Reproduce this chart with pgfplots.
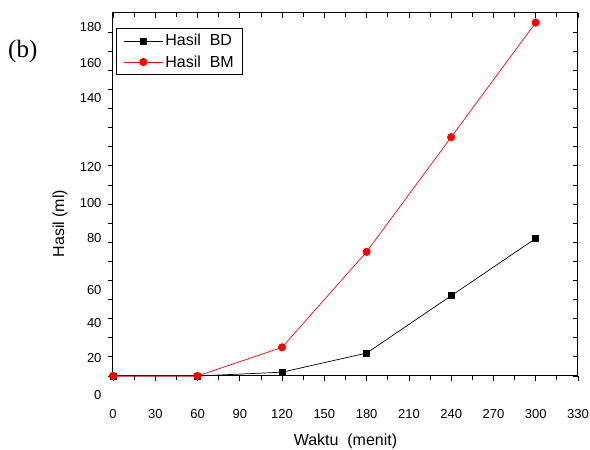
\documentclass[border=0pt]{standalone}
\usepackage{pgfplots}
\pgfplotsset{compat=1.18}
\usepackage{fontspec}
\setmainfont{Liberation Sans}
\newfontfamily\serifb{Liberation Serif}
\begin{document}
\begin{tikzpicture}
\useasboundingbox (-113pt,-74pt) rectangle (477pt,376pt);
\begin{axis}[
  at={(0,0)}, anchor=south west,
  scale only axis, width=465pt, height=363pt,
  xmin=0, xmax=330, ymin=0, ymax=190,
  clip=false,
  axis line style={line width=1pt},
  xtick={0,30,...,330},
  minor xtick={15,45,...,315},
  ytick={0,10,...,180},
  yticklabels={},
  xtick pos=bottom, ytick pos=left,
  tick align=outside,
  major tick length=5pt, minor tick length=4pt,
  every tick/.style={black, line width=0.8pt},
  /pgf/number format/assume math mode=true,
  ticklabel style={font=\fontsize{13}{15}\selectfont},
  xticklabel style={yshift=-25pt},
  extra y ticks={182.5,163.7,145.4,109.6,90.4,72.1,45.0,27.6,9.3},
  extra y tick labels={180,160,140,120,100,80,60,40,20},
  extra y tick style={major tick length=0pt, yticklabel style={xshift=-8pt}},
  xlabel={Waktu\ \ (menit)},
  ylabel={Hasil (ml)},
  label style={font=\fontsize{16}{18}\selectfont},
  xlabel style={at={(axis description cs:0.5,0)}, anchor=center, yshift=-65pt},
  ylabel style={at={(axis description cs:-0.114,0.42)}, anchor=center},
  legend style={at={(axis description cs:0,1)}, anchor=north west, xshift=3pt, yshift=-15pt,
    draw=black, line width=0.8pt, font=\fontsize{16}{18}\selectfont,
    inner xsep=7pt, inner ysep=4pt, row sep=4pt,
    cells={anchor=west}},
  legend image post style={line width=0.7pt},
  legend image code/.code={\draw[#1] (0cm,0cm) -- (1.38cm,0cm) plot[mark repeat=1] coordinates {(0.69cm,0cm)};},
]
\addplot[black, line width=0.7pt, mark=square*, mark size=3pt, mark options={solid, fill=black}]
  coordinates {(0,0) (60,0) (120,2) (180,12) (240,42) (300,72)};
\addlegendentry{Hasil\ \ BD}
\addplot[red, line width=0.7pt, mark=*, mark size=3.7pt, mark options={solid, fill=red}]
  coordinates {(0,0) (60,0) (120,15) (180,65) (240,125) (300,185)};
\addlegendentry{Hasil\ \ BM}
\node[anchor=east, font=\fontsize{13}{15}\selectfont] at (axis cs:0,-9.9) [xshift=-8pt] {0};
\node[anchor=west, font=\serifb\fontsize{25}{27}\selectfont, inner sep=0pt] at (axis cs:0,170) [xshift=-105pt] {(b)};
\end{axis}
\begin{axis}[
  at={(0,0)}, anchor=south west,
  scale only axis, width=465pt, height=363pt,
  xmin=0, xmax=330, ymin=0, ymax=190,
  axis line style={draw=none},
  xtick={0,30,...,330},
  minor xtick={15,45,...,315},
  ytick={0,10,...,180},
  xticklabels={}, yticklabels={},
  xtick pos=top, ytick pos=right,
  tick align=inside,
  major tick length=5pt, minor tick length=4pt,
  every tick/.style={black, line width=0.8pt},
]
\end{axis}
\end{tikzpicture}
\end{document}
